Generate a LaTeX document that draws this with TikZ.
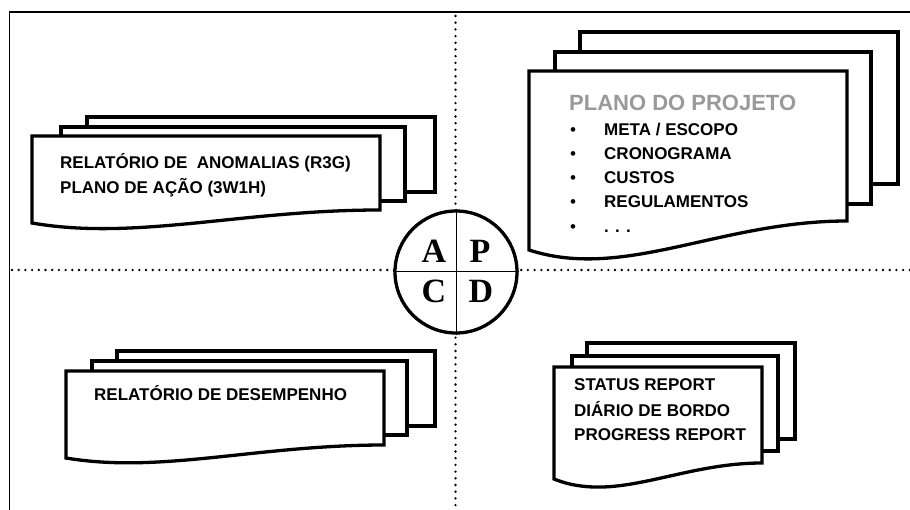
\documentclass[tikz,border=0pt]{standalone}
\usepackage{fontspec}
\setmainfont{Liberation Sans}
\newfontfamily\pdcafont{Liberation Serif}

\tikzset{
  sheet/.style={draw, fill=white, line width=3.3pt, line join=miter},
  dotline/.style={line width=2.6pt, line cap=round, dash pattern=on 0pt off 6.7pt},
  doctext/.style={anchor=base west, inner sep=0pt, font=\fontsize{17}{20}\selectfont\bfseries},
  bullet/.style={anchor=base, inner sep=0pt, font=\fontsize{17}{20}\selectfont},
  letter/.style={inner sep=0pt, font=\fontsize{34}{36}\selectfont\pdcafont\bfseries}
}

\begin{document}
\begin{tikzpicture}[x=1pt, y=-1pt]
\useasboundingbox (0,0) rectangle (910,510);

\draw[line width=1.3pt] (9.5,510) -- (9.5,12) -- (910,12);
\draw[dotline] (455.5,16) -- (455.5,510);
\draw[dotline] (12,270) -- (910,270);

\draw[sheet] (87,117) rectangle (435,192);
\draw[sheet] (61,127) rectangle (405,201);
\draw[sheet] (32,136) -- (380,136) -- (380,210) .. controls (241,210) and (136,241) .. (32,223) -- cycle;
\node[doctext] (anomalias) at (60,169) {RELATÓRIO DE~ ANOMALIAS (R3G)};
\node[doctext] (acao) at (60,194) {PLANO DE AÇÃO (3W1H)};

\draw[sheet] (580,32) rectangle (898,184);
\draw[sheet] (555,52) rectangle (871,204);
\draw[sheet] (529,71) -- (847,71) -- (847,221) .. controls (720,221) and (624,281) .. (529,250) -- cycle;
\node[doctext, font=\fontsize{22}{26}\selectfont\bfseries, text=black!40] (projeto) at (569,111) {PLANO DO PROJETO};
\node[bullet] (b1) at (573,136) {•};
\node[doctext] (meta) at (604,136) {META / ESCOPO};
\node[bullet] (b2) at (573,160) {•};
\node[doctext] (crono) at (604,160) {CRONOGRAMA};
\node[bullet] (b3) at (573,184) {•};
\node[doctext] (custos) at (604,184) {CUSTOS};
\node[bullet] (b4) at (573,208) {•};
\node[doctext] (regul) at (604,208) {REGULAMENTOS};
\node[bullet] (b5) at (573,233) {•};
\node[doctext] (etc) at (604,233) {. . .};

\draw[sheet] (117,351) rectangle (435,426);
\draw[sheet] (92,361) rectangle (407,435);
\draw[sheet] (66,371) -- (384,371) -- (384,445) .. controls (257,445) and (161,474) .. (66,458) -- cycle;
\node[doctext] (desempenho) at (94,400) {RELATÓRIO DE DESEMPENHO};

\draw[sheet] (587,343) rectangle (795,439);
\draw[sheet] (572,356) rectangle (778,451);
\draw[sheet] (554,367) -- (762,367) -- (762,463) .. controls (679,463) and (616,504) .. (554,479) -- cycle;
\node[doctext] (status) at (574,391) {STATUS REPORT};
\node[doctext] (diario) at (574,416) {DIÁRIO DE BORDO};
\node[doctext] (progress) at (574,440) {PROGRESS REPORT};

\node[circle, draw, fill=white, line width=3.3pt, minimum size=122, inner sep=0pt] (pdca) at (456,272) {};
\draw[line width=1pt] (pdca.north) -- (pdca.south);
\draw[line width=1pt] (pdca.west) -- (pdca.east);
\node[letter] (la) at (434,251) {A};
\node[letter] (lp) at (480,251) {P};
\node[letter] (lc) at (434,291) {C};
\node[letter] (ld) at (481,291) {D};
\end{tikzpicture}
\end{document}
